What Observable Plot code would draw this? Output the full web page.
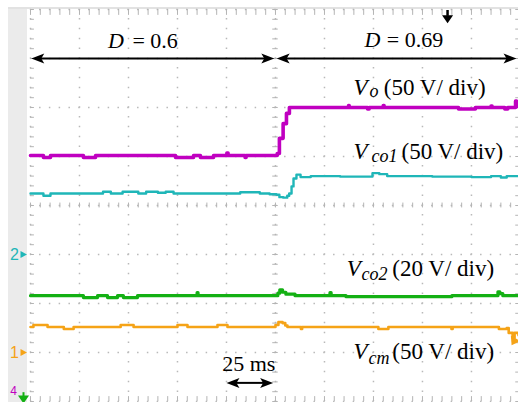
<!DOCTYPE html>
<html><head><meta charset="utf-8">
<script src="https://cdn.jsdelivr.net/npm/d3@7"></script>
<script src="https://cdn.jsdelivr.net/npm/@observablehq/plot@0.6"></script>
<style>
html,body{margin:0;padding:0;background:#fff;}
#wrap{position:relative;width:518px;height:402px;overflow:hidden;}
#band{position:absolute;left:8px;top:7px;width:19px;height:395px;background:#ebebeb;}
#topband{position:absolute;left:8px;top:7px;width:510px;height:2px;background:#e2e2e2;}
#chart{position:absolute;left:0;top:0;}
</style></head><body>
<div id="wrap"><div id="band"></div><div id="topband"></div><div id="chart"></div></div>
<script>
// ---- data: time in ms (25 ms/div, step at 0), amplitude in screen divisions ----
const vo = [[-125,1.02],[-118.4,0.98],[-114.8,1.02],[-98,0.98],[-91.8,1.02],[-51,0.98],[-41.8,1.02],[-38.3,0.98],[-31.6,1.02],[-24.8,1.07],[-24.2,1.02],[-15.5,0.98],[-15,1.02],[0.4,1.02],[0.9,1.06],[2.0,1.37],[3.9,1.67],[5.6,1.88],[7.1,2.0],[37,2.0],[37.3,2.04],[37.6,2.0],[47,1.97],[47.8,2.0],[55,2.04],[55.4,2.0],[93.4,1.97],[102,2.0],[110,2.03],[110.5,2.0],[117,1.97],[118.5,2.0],[122.5,2.13],[123,2.02],[124,2.02]];
const vco1 = [[-125,0.245],[-118.4,0.2],[-114.8,0.245],[-88,0.28],[-84,0.245],[-78,0.28],[-70,0.245],[-66,0.28],[-60,0.26],[-56,0.28],[-52,0.245],[-18,0.27],[-8,0.245],[-3,0.23],[0.5,0.22],[2,0.17],[4,0.16],[6,0.2],[7,0.245],[8.2,0.39],[9.2,0.55],[10.7,0.63],[12.8,0.58],[18,0.6],[33,0.59],[49.5,0.66],[53,0.64],[57,0.6],[80,0.59],[100,0.58],[110,0.6],[115,0.57],[118,0.6],[124,0.6]];
const vco2 = [[-125,-1.84],[-98,-1.88],[-90.8,-1.84],[-85.7,-1.88],[-80.6,-1.84],[-77.6,-1.88],[-70.4,-1.84],[-40,-1.78],[-39.5,-1.84],[0,-1.84],[1.2,-1.79],[2.2,-1.72],[3.6,-1.77],[5.3,-1.81],[10,-1.84],[27.8,-1.78],[28.4,-1.84],[36,-1.86],[90,-1.84],[113.5,-1.76],[114.5,-1.8],[116,-1.84],[124,-1.84]];
const vcm = [[-125,-2.48],[-123.5,-2.44],[-116.3,-2.48],[-108,-2.52],[-103,-2.48],[-79,-2.44],[-72.4,-2.48],[-50,-2.44],[-44.9,-2.48],[-29.6,-2.44],[-24.5,-2.48],[-1.5,-2.48],[0,-2.44],[1.5,-2.38],[3.6,-2.4],[5,-2.45],[6.1,-2.48],[13,-2.52],[13.6,-2.48],[52.5,-2.52],[57.6,-2.48],[89.8,-2.52],[90.4,-2.48],[114,-2.52],[118,-2.5],[119,-2.6],[121,-2.7],[122,-2.6],[124,-2.65]];

const sigSub = ["o", "co1", "co2", "cm"];
const sigScale = ["(50 V/ div)", "(50 V/ div)", "(20 V/ div)", "(50 V/ div)"];
const dutyValues = ["0.6", "0.69"];
const timeLabel = "25 ms";
const channelNames = ["2", "1", "4"];

// ---- layout ----
const colors = {vo:"#c000c0", vco1:"#1fb6b8", vco2:"#14b014", vcm:"#f5a317"};
const labelAt = [[39.8, 2.245], [39.8, 0.953], [36.4, -1.429], [39.8, -3.129]];
const subDx = [16, 18, 14.7, 15], subDy = [2, 3.5, 4, 4.7], scaleDx = [30.3, 48, 45.5, 38.8];
const dutyAt = [[-85.4, 3.21], [45.4, 3.23]], eqDx = [24.3, 22.3];
const arrows = [[-124.6, -0.6, 3.0], [0.6, 123, 3.0], [-25, -1.2, -3.62]];

const serif = "'Liberation Serif', 'Times New Roman', Times, serif";
const sans = "'Liberation Sans', Arial, sans-serif";
const majorT = d3.range(-125, 126, 25);
const majorD = d3.range(-4, 5, 1);
const minorT = d3.range(-125, 126, 5);
const minorD = d3.range(0, 41).map(i => -4 + i * 0.2);

const head = {draw(ctx){ctx.moveTo(0,0);ctx.lineTo(-13,-5);ctx.lineTo(-10,0);ctx.lineTo(-13,5);ctx.closePath();}};
const downTri = {draw(ctx){ctx.moveTo(-5.5,-4);ctx.lineTo(5.5,-4);ctx.lineTo(0,4);ctx.closePath();}};
const rightTri = {draw(ctx){ctx.moveTo(-3,-3.5);ctx.lineTo(3.5,0);ctx.lineTo(-3,3.5);ctx.closePath();}};

const gridStyle = {stroke:"#b9b9b9", strokeWidth:1.5, strokeDasharray:"1.5 8.3", strokeDashoffset:0.75};
const tickStyle = {stroke:"#b4b4b4", strokeWidth:1};
const heads = arrows.flatMap(a => [{x:a[0], y:a[2], r:180}, {x:a[1], y:a[2], r:0}]);
const txt = (extra) => ({text:d=>d, textAnchor:"start", lineAnchor:"bottom", fontFamily:serif, fill:"black", ...extra});

const marks = [
  Plot.ruleX(majorT, gridStyle),
  Plot.ruleY(majorD, gridStyle),
  Plot.ruleX(minorT, {...tickStyle, y1:-0.05, y2:0.05}),
  Plot.ruleY(minorD, {...tickStyle, x1:-1.4, x2:1.4}),
  Plot.ruleX(minorT, {...tickStyle, y1:4, y2:3.88}),
  Plot.ruleX(minorT, {...tickStyle, y1:-4, y2:-3.9}),
  Plot.ruleY(minorD, {...tickStyle, x1:-125, x2:-123}),
  Plot.ruleY(minorD, {...tickStyle, x1:122.6, x2:125}),
  Plot.line(vcm, {x:d=>d[0], y:d=>d[1], stroke:colors.vcm, strokeWidth:2.6, curve:"step-after"}),
  Plot.line(vco2, {x:d=>d[0], y:d=>d[1], stroke:colors.vco2, strokeWidth:3.2, curve:"step-after"}),
  Plot.line(vco1, {x:d=>d[0], y:d=>d[1], stroke:colors.vco1, strokeWidth:2.4, curve:"step-after"}),
  Plot.line(vo, {x:d=>d[0], y:d=>d[1], stroke:colors.vo, strokeWidth:3.6, curve:"step-after"}),
  Plot.dot([{x:121.5, y:-2.78}], {x:"x", y:"y", symbol:downTri, fill:colors.vcm, stroke:"none", rotate:30}),
  // arrows
  Plot.link(arrows, {x1:a=>a[0]+4, x2:a=>a[1]-4, y1:a=>a[2], y2:a=>a[2], stroke:"black", strokeWidth:2}),
  Plot.dot(heads, {x:"x", y:"y", rotate:"r", symbol:head, fill:"black", stroke:"none"}),
  // trigger marker
  Plot.ruleX([87.8], {y1:3.98, y2:3.86, stroke:"black", strokeWidth:2.5}),
  Plot.dot([87.8], {x:d=>d, y:3.8, symbol:downTri, fill:"black", stroke:"none"}),
  // channel markers
  Plot.text([channelNames[0]], {x:-125, y:-1, text:d=>d, dx:-16, fill:colors.vco1, fontSize:16, fontFamily:sans}),
  Plot.dot([0], {x:-125, y:-1, dx:-7, symbol:rightTri, fill:colors.vco1, stroke:"none"}),
  Plot.text([channelNames[1]], {x:-125, y:-3, text:d=>d, dx:-16, fill:colors.vcm, fontSize:16, fontFamily:sans}),
  Plot.dot([0], {x:-125, y:-3, dx:-7, symbol:rightTri, fill:colors.vcm, stroke:"none"}),
  Plot.text([channelNames[2]], {x:-125, y:-3.78, text:d=>d, dx:-17, fill:colors.vo, fontSize:12, fontFamily:sans}),
  Plot.ruleX([0], {x:-125, dx:-7, y1:-3.82, y2:-3.93, stroke:colors.vco2, strokeWidth:2}),
  Plot.dot([0], {x:-125, y:-3.96, dx:-7, symbol:downTri, fill:colors.vco2, stroke:"none"}),
  // duty labels
  ...dutyValues.flatMap((v, i) => [
    Plot.text(["D"], {x:dutyAt[i][0], y:dutyAt[i][1], ...txt({fontStyle:"italic", fontSize:22})}),
    Plot.text(["= " + v], {x:dutyAt[i][0], y:dutyAt[i][1], ...txt({dx:eqDx[i], fontSize:22})})
  ]),
  // signal labels
  ...sigSub.flatMap((s, i) => [
    Plot.text(["V"], {x:labelAt[i][0], y:labelAt[i][1], ...txt({fontStyle:"italic", fontSize:23})}),
    Plot.text([s], {x:labelAt[i][0], y:labelAt[i][1], ...txt({dx:subDx[i], dy:subDy[i], fontStyle:"italic", fontSize:18})}),
    Plot.text([sigScale[i]], {x:labelAt[i][0], y:labelAt[i][1], ...txt({dx:scaleDx[i], fontSize:23})})
  ]),
  Plot.text([timeLabel], {x:-27.2, y:-3.38, ...txt({fontSize:22})})
];

const chart = Plot.plot({
  width: 518, height: 402,
  marginLeft: 30, marginRight: 0, marginTop: 9, marginBottom: 1,
  x: {domain: [-125, 124], axis: null},
  y: {domain: [-4, 4], axis: null},
  style: {background: "transparent", overflow: "visible", fontFamily: serif},
  marks
});
document.getElementById("chart").appendChild(chart);
</script></body></html>
